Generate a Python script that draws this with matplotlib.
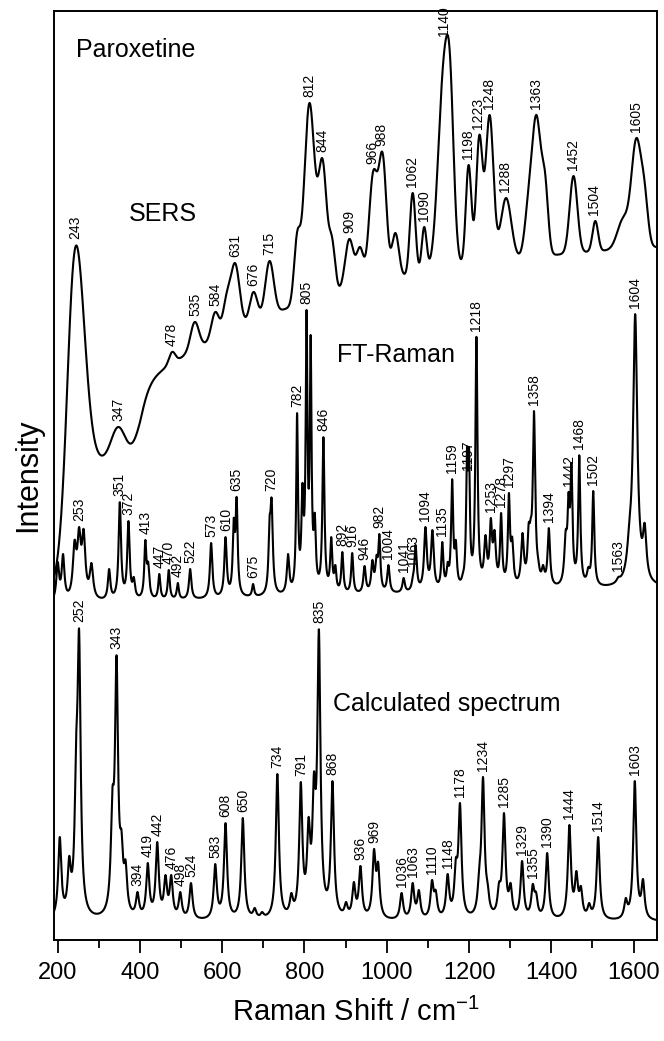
import numpy as np
import matplotlib
matplotlib.use("Agg")
import matplotlib.pyplot as plt
from matplotlib.ticker import MultipleLocator

plt.rcParams["font.family"] = ["Liberation Sans", "DejaVu Sans"]
plt.rcParams["mathtext.default"] = "regular"

# ---------------------------------------------------------------------------
# Data (band position / cm-1, intensity, band width)
# intensity is on one shared arbitrary scale, spectra already stacked
# ---------------------------------------------------------------------------

# SERS (top trace)
sers_pos = [243, 347, 478, 533, 583, 610, 631, 676, 715, 782, 812, 844, 867,
            909, 935, 967, 990, 1021, 1063, 1091, 1140, 1155, 1199, 1225,
            1250, 1290, 1344, 1364, 1385, 1454, 1507, 1575, 1607, 1627]
sers_int = [693, 513, 588, 618, 628, 646, 677, 648, 679, 708, 837, 781, 703,
            701, 693, 769, 787, 707, 747, 713, 890, 875, 775, 805,
            825, 742, 750, 825, 767, 764, 719, 723, 802, 758]
sers_fwhm = [50, 40, 18, 24, 22, 20, 26, 22, 24, 18, 30, 24, 18,
             24, 20, 24, 22, 20, 16, 14, 34, 20, 16, 18,
             22, 30, 22, 26, 18, 22, 16, 34, 28, 20]
sers_labels = [243, 347, 478, 535, 584, 631, 676, 715, 812, 844, 909, 966,
               988, 1062, 1090, 1140, 1198, 1223, 1248, 1288, 1363, 1452,
               1504, 1605]

# FT-Raman (middle trace)
ft_pos = [200, 213, 241, 252, 263, 282, 325, 351, 372, 385, 413, 420, 447,
          470, 492, 522, 573, 608, 628, 635, 675, 715, 720, 760, 782, 795,
          805, 815, 825, 846, 865, 875, 892, 916, 946, 965, 975, 982, 1004,
          1041, 1063, 1070, 1094, 1111, 1135, 1148, 1159, 1168, 1185, 1195,
          1200, 1218, 1240, 1253, 1262, 1278, 1297, 1305, 1330, 1345, 1350,
          1358, 1368, 1380, 1394, 1435, 1442, 1449, 1468, 1490, 1502, 1563,
          1590, 1604, 1627]
ft_int = [378, 386, 400, 413, 411, 377, 371, 438, 419, 363, 400, 378, 366,
          370, 357, 371, 397, 403, 422, 443, 356, 423, 442, 386, 527, 457,
          630, 605, 427, 503, 403, 375, 388, 387, 374, 380, 385, 406, 375,
          362, 363, 395, 413, 410, 398, 378, 461, 400, 367, 493,
          492, 604, 405, 422, 410, 427, 447, 403, 407, 417, 422,
          529, 382, 375, 412, 410, 448, 477, 485, 373, 449, 363,
          420, 626, 417]
ft_fwhm = [8, 8, 10, 10, 10, 10, 7, 7, 7, 7, 6, 7, 6,
           6, 6, 7, 7, 7, 6, 6, 6, 6, 7, 7, 5, 6,
           5, 5, 6, 6, 6, 6, 6, 6, 7, 7, 7, 6, 7,
           7, 6, 7, 8, 8, 6, 6, 6, 6, 7, 5,
           5, 6, 8, 7, 8, 6, 6, 7, 8, 7, 7,
           7, 8, 8, 7, 8, 6, 6, 6, 8, 6, 10,
           14, 12, 10]
ft_labels = [253, 351, 372, 413, 447, 470, 492, 522, 573, 610, 635, 675, 720,
             782, 805, 846, 892, 916, 946, 982, 1004, 1041, 1063, 1094, 1135,
             1159, 1197, 1218, 1253, 1278, 1297, 1358, 1394, 1442, 1468, 1502,
             1563, 1604]

# Calculated spectrum (bottom trace)
calc_pos = [205, 228, 245, 252, 333, 343, 355, 365, 394, 419, 442, 462, 476,
            498, 524, 583, 608, 650, 679, 697, 734, 768, 791, 810, 823, 835,
            868, 901, 920, 936, 969, 979, 1036, 1063, 1078, 1110, 1119, 1148,
            1168, 1178, 1225, 1234, 1245, 1273, 1285, 1301, 1329, 1355, 1363,
            1390, 1444, 1461, 1472, 1492, 1514, 1581, 1603, 1623]
calc_int = [103, 84, 205, 311, 152, 285, 110, 80, 48, 77, 98, 65, 65,
            48, 57, 76, 117, 122, 32, 28, 166, 47, 158, 123, 168, 311,
            159, 38, 58, 74, 91, 78, 47, 57, 50, 60, 50, 66,
            82, 137, 75, 163, 58, 58, 127, 57, 79, 56, 48,
            87, 115, 69, 54, 37, 103, 42, 159, 61]
calc_fwhm = 9
calc_labels = [252, 343, 394, 419, 442, 476, 498, 524, 583, 608, 650, 734, 791,
               835, 868, 936, 969, 1036, 1063, 1110, 1148, 1178, 1234, 1285,
               1329, 1355, 1390, 1444, 1514, 1603]

label_nudge = {("ft", 1197): -30}


def gauss(x, c, w):
    return np.exp(-4.0 * np.log(2.0) * ((x - c) / w) ** 2)


def lorentz(x, c, w):
    return 1.0 / (1.0 + ((x - c) / (0.5 * w)) ** 2)


def sers_base(x):
    x = np.asarray(x, float)
    step1 = 130.0 / (1.0 + np.exp(-(x - 225.0) / 8.0))
    step2 = 75.0 / (1.0 + np.exp(-(x - 400.0) / 12.0))
    slow = 150.0 * (1.0 - np.exp(-np.clip(x - 400.0, 0, None) / 500.0))
    return 350.0 + step1 + step2 + slow


def ft_base(x):
    return 336.0 + 0.011 * (np.asarray(x, float) - 200.0)


def calc_base(x):
    return np.full_like(np.asarray(x, float), 18.0)


def trace(x, pos, height, width, base, shape):
    """Band sum that passes through the read band maxima."""
    pos = np.asarray(pos, float)
    width = np.broadcast_to(np.asarray(width, float), pos.shape)
    m = shape(pos[:, None], pos[None, :], width[None, :])
    amp = np.linalg.solve(m, np.asarray(height, float) - base(pos))
    return base(x) + (shape(x[:, None], pos[None, :], width[None, :]) * amp).sum(axis=1)


x = np.linspace(191, 1657, 4000)
y_sers = trace(x, sers_pos, sers_int, sers_fwhm, sers_base, gauss)
y_ft = trace(x, ft_pos, ft_int, ft_fwhm, ft_base, lorentz)
y_calc = trace(x, calc_pos, calc_int, calc_fwhm, calc_base, lorentz)

fig = plt.figure(figsize=(6.64, 10.41), dpi=100)
ax = fig.add_axes([54 / 664, 1 - 940 / 1041, 603 / 664, 929 / 1041])

for key, yy, labels in [("sers", y_sers, sers_labels),
                        ("ft", y_ft, ft_labels),
                        ("calc", y_calc, calc_labels)]:
    ax.plot(x, yy, color="black", lw=1.5)
    for lab in labels:
        near = (x > lab - 2.5) & (x < lab + 2.5)
        ytop = yy[near].max() + 6 + label_nudge.get((key, lab), 0)
        ax.text(lab, ytop, str(lab), rotation=90, ha="center", va="bottom",
                fontsize=10)

ax.text(245, 883, "Paroxetine", fontsize=18, ha="left", va="baseline")
ax.text(373, 719, "SERS", fontsize=18, ha="left", va="baseline")
ax.text(878, 578, "FT-Raman", fontsize=18, ha="left", va="baseline")
ax.text(870, 229, "Calculated spectrum", fontsize=18, ha="left", va="baseline")

ax.set_xlim(191, 1657)
ax.set_ylim(0, 929)
ax.set_xticks(range(200, 1601, 200))
ax.xaxis.set_minor_locator(MultipleLocator(100))
ax.set_yticks([])
ax.tick_params(axis="x", which="major", direction="out", length=9, width=1.3,
               labelsize=17, pad=7)
ax.tick_params(axis="x", which="minor", direction="out", length=5.5, width=1.3)
for sp in ax.spines.values():
    sp.set_linewidth(1.4)

ax.set_xlabel("Raman Shift / cm$^{-1}$", fontsize=21, labelpad=10)
ax.set_ylabel("Intensity", fontsize=22, labelpad=8)

fig.savefig("out.png", dpi=100)
